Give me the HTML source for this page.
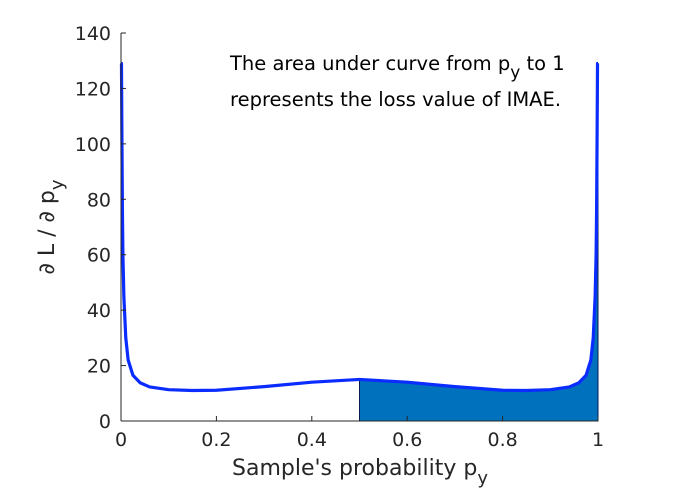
<!DOCTYPE html>
<html><head><meta charset="utf-8"><style>
html,body{margin:0;padding:0;background:#fff;}
svg{display:block;font-family:"DejaVu Sans","Liberation Sans",sans-serif;}
</style></head><body>
<svg id="chart" width="674" height="497" viewBox="0 0 674 497">
<g id="plot"></g>
</svg>
<script>
const xValues = [0.001,0.002,0.003,0.004,0.006,0.01,0.015,0.025,0.04,0.06,0.1,0.15,0.2,0.3,0.4,0.5,0.6,0.7,0.8,0.85,0.9,0.94,0.96,0.975,0.985,0.99,0.994,0.996,0.997,0.998,0.999];
const yValues = [129,100,75,60,45,30,22,16.5,13.8,12.3,11.3,11,11.1,12.4,14,15,14,12.4,11.1,11,11.3,12.3,13.8,16.5,22,30,45,60,75,100,129];
const xTicks = [0,0.2,0.4,0.6,0.8,1];
const xTickLabels = ["0","0.2","0.4","0.6","0.8","1"];
const yTicks = [0,20,40,60,80,100,120,140];
const yTickLabels = ["0","20","40","60","80","100","120","140"];
const fillStart = 0.5;

const X0=121,X1=598,Y0=421,Y1=33;
const sx=v=>X0+(X1-X0)*v;
const sy=v=>Y0-(Y0-Y1)*v/140;
const NS="http://www.w3.org/2000/svg";
const g=document.getElementById('plot');
function mk(t,a){const e=document.createElementNS(NS,t);for(const k in a)e.setAttribute(k,a[k]);g.appendChild(e);return e;}

let fp=`M${sx(fillStart)},${sy(0)} L${sx(fillStart)},${sy(yValues[xValues.indexOf(fillStart)])}`;
xValues.forEach((x,i)=>{if(x>fillStart)fp+=` L${sx(x)},${sy(yValues[i])}`;});
fp+=` L${sx(1)},${sy(yValues[yValues.length-1])} L${sx(1)},${sy(0)} Z`;
const area=mk('path',{d:fp,fill:'#0072BD',stroke:'#0a1a50','stroke-width':1});



let lp=`M${sx(0)},${sy(yValues[0])}`;
xValues.forEach((x,i)=>{lp+=` L${sx(x)},${sy(yValues[i])}`;});
lp+=` L${sx(1)},${sy(yValues[yValues.length-1])}`;
const line=mk('path',{d:lp,fill:'none',stroke:'#0a2cff','stroke-width':3.2,'stroke-linejoin':'round'});



const xa=mk('line',{x1:X0,y1:Y0,x2:X1,y2:Y0,stroke:'#262626','stroke-width':1});


const ya=mk('line',{x1:X0,y1:Y0,x2:X0,y2:Y1,stroke:'#262626','stroke-width':1});



xTicks.forEach((v,i)=>{
  const t=mk('line',{x1:sx(v),y1:Y0,x2:sx(v),y2:Y0-5,stroke:'#262626'});
  
  
  const l=mk('text',{x:sx(v),y:Y0+25,'text-anchor':'middle','font-size':19,fill:'#262626'});
  l.textContent=xTickLabels[i];
  
  
});
yTicks.forEach((v,i)=>{
  const t=mk('line',{x1:X0,y1:sy(v),x2:X0+5,y2:sy(v),stroke:'#262626'});
  
  
  const l=mk('text',{x:X0-10,y:sy(v)+7,'text-anchor':'end','font-size':19,fill:'#262626'});
  l.textContent=yTickLabels[i];
  
  
});
</script>
<svg width="674" height="497" style="position:absolute;left:0;top:0;font-family:'DejaVu Sans','Liberation Sans',sans-serif">
<text x="360" y="475" text-anchor="middle" font-size="22" fill="#262626">Sample's probability p<tspan dy="9" font-size="18">y</tspan></text>
<text transform="translate(54,227) rotate(-90)" text-anchor="middle" font-size="22" fill="#262626">∂ L / ∂ p<tspan dy="9" font-size="18">y</tspan></text>
<text x="230" y="70" font-size="19.5" fill="#000">The area under curve from p<tspan dy="8" font-size="17">y</tspan><tspan dy="-8"> to 1</tspan></text>
<text x="230" y="106" font-size="19.5" fill="#000">represents the loss value of IMAE.</text>
</svg>
</body></html>
